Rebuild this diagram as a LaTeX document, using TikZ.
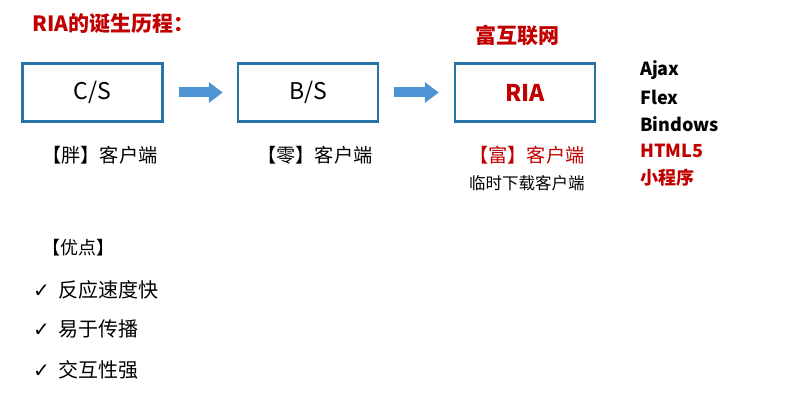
\documentclass[tikz,border=0pt]{standalone}
\usepackage{fontspec}
\setmainfont{Noto Sans CJK SC}
\newfontfamily\symfont{DejaVu Sans}
\usetikzlibrary{arrows.meta,positioning}
\definecolor{RIARed}{RGB}{192,0,0}
\definecolor{BoxBlue}{RGB}{40,116,166}
\definecolor{ArrowBlue}{RGB}{77,148,212}
\newcommand{\chk}{{\symfont ✓}\hspace{9pt}}

\begin{document}
\begin{tikzpicture}[x=1pt,y=-1pt,
  box/.style={draw=BoxBlue,line width=2.5pt,minimum width=140pt,
              minimum height=58pt,inner sep=0pt,font=\fontsize{23}{27}\selectfont},
  flow/.style={ArrowBlue,line width=10pt,-{Triangle[length=14pt,width=20pt]}},
  lbl/.style={anchor=west,inner sep=0pt,font=\fontsize{19.2}{23}\selectfont},
  tech/.style={anchor=west,inner sep=0pt,font=\fontsize{18}{21}\selectfont\bfseries},
  pro/.style={anchor=west,inner sep=0pt,font=\fontsize{20}{24}\selectfont},
]
\useasboundingbox (0,0) rectangle (787,406);
\node[anchor=west,inner sep=0pt,text=RIARed,font=\fontsize{21}{25}\selectfont\bfseries]
  (title) at (32,24) {RIA的诞生历程：};
\node[box] (cs) at (92.5,92.5) {C/S};
\node[box] (bs) at (308,92.5) {B/S};
\node[box,text=RIARed,font=\fontsize{23}{27}\selectfont\bfseries] (ria) at (525,92.5) {RIA};
\node[text=RIARed,inner sep=0pt,font=\fontsize{21}{25}\selectfont\bfseries]
  (rich) at (517,36) {富互联网};
\draw[flow] ([xshift=15pt]cs.east) -- ([xshift=-14pt]bs.west);
\draw[flow] ([xshift=15pt]bs.east) -- ([xshift=-15pt]ria.west);
\node[lbl] (fat) at (42,155) {【胖】客户端};
\node[lbl] (zero) at (257,155) {【零】客户端};
\node[lbl,text=RIARed] (richc) at (469,155) {【富】客户端};
\node[lbl,font=\fontsize{16.5}{20}\selectfont] (temp) at (469,183) {临时下载客户端};
\node[tech] (ajax) at (640,70) {Ajax};
\node[tech] (flex) at (640,97) {Flex};
\node[tech] (bindows) at (640,124) {Bindows};
\node[tech,text=RIARed] (html) at (640,151) {HTML5};
\node[tech,text=RIARed] (mini) at (640,178) {小程序};
\node[lbl,font=\fontsize{18}{21}\selectfont] (merit) at (42,248) {【优点】};
\node[pro] (fast) at (33,290) {\chk 反应速度快};
\node[pro] (easy) at (33,329) {\chk 易于传播};
\node[pro] (inter) at (33,370) {\chk 交互性强};
\end{tikzpicture}
\end{document}
